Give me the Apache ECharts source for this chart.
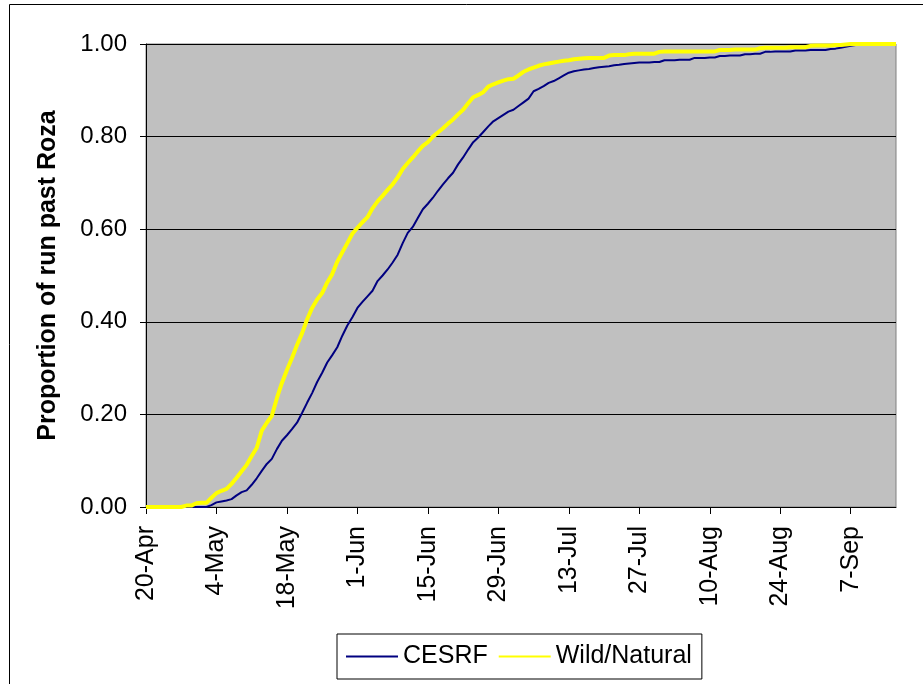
<!DOCTYPE html>
<html>
<head>
<meta charset="utf-8">
<script src="https://cdn.jsdelivr.net/npm/echarts@6/dist/echarts.min.js"></script>
<style>
  html, body { margin: 0; padding: 0; background: #fff; }
  #chart { width: 923px; height: 684px; }
</style>
</head>
<body>
<div id="chart"></div>
<script>
// run timing, 20-Apr .. 16-Sep (one point per day)
const START_DAY = [4, 20]      // month (1-based), day
const DAY_COUNT = 150
const MONTHS = ['Jan', 'Feb', 'Mar', 'Apr', 'May', 'Jun', 'Jul', 'Aug', 'Sep', 'Oct', 'Nov', 'Dec']
const SERIES_NAMES = ['CESRF', 'Wild/Natural']
const Y_TICKS = [0, 0.2, 0.4, 0.6, 0.8, 1.0]

const cesrf = [
  0, 0, 0, 0, 0, 0, 0, 0, 0, 0,
  0, 0, 0, 0.004, 0.010, 0.012, 0.014, 0.017, 0.025, 0.032,
  0.036, 0.048, 0.062, 0.078, 0.093, 0.104, 0.125, 0.143, 0.155, 0.168,
  0.182, 0.203, 0.225, 0.246, 0.270, 0.290, 0.312, 0.328, 0.345, 0.370,
  0.392, 0.410, 0.430, 0.443, 0.455, 0.467, 0.488, 0.500, 0.513, 0.528,
  0.545, 0.570, 0.592, 0.605, 0.624, 0.643, 0.655, 0.668, 0.683, 0.697,
  0.710, 0.722, 0.740, 0.755, 0.772, 0.788, 0.798, 0.810, 0.822, 0.833,
  0.840, 0.847, 0.854, 0.858, 0.866, 0.874, 0.882, 0.898, 0.903, 0.909,
  0.916, 0.920, 0.926, 0.932, 0.938, 0.941, 0.943, 0.945, 0.946, 0.948,
  0.950, 0.951, 0.952, 0.954, 0.955, 0.957, 0.958, 0.959, 0.960, 0.960,
  0.960, 0.961, 0.961, 0.965, 0.965, 0.965, 0.966, 0.966, 0.966, 0.970,
  0.970, 0.970, 0.971, 0.971, 0.974, 0.974, 0.975, 0.975, 0.975, 0.978,
  0.978, 0.979, 0.979, 0.983, 0.983, 0.984, 0.984, 0.984, 0.984, 0.986,
  0.986, 0.986, 0.987, 0.987, 0.987, 0.987, 0.989, 0.990, 0.992, 0.994,
  0.996, 0.998, 1, 1, 1, 1, 1, 1, 1, 1,
]

const wild = [
  0, 0, 0, 0, 0, 0, 0, 0, 0.003, 0.003,
  0.008, 0.009, 0.009, 0.020, 0.030, 0.035, 0.039, 0.050, 0.063, 0.077,
  0.091, 0.110, 0.128, 0.165, 0.182, 0.197, 0.235, 0.268, 0.296, 0.322,
  0.350, 0.375, 0.405, 0.430, 0.448, 0.462, 0.485, 0.503, 0.530, 0.550,
  0.570, 0.590, 0.603, 0.615, 0.626, 0.645, 0.660, 0.672, 0.685, 0.697,
  0.712, 0.730, 0.743, 0.755, 0.768, 0.780, 0.788, 0.800, 0.809, 0.818,
  0.828, 0.837, 0.848, 0.858, 0.872, 0.885, 0.890, 0.896, 0.908, 0.913,
  0.917, 0.921, 0.924, 0.925, 0.932, 0.940, 0.945, 0.949, 0.953, 0.956,
  0.958, 0.960, 0.962, 0.964, 0.965, 0.967, 0.968, 0.969, 0.970, 0.970,
  0.970, 0.970, 0.975, 0.976, 0.976, 0.976, 0.978, 0.979, 0.979, 0.979,
  0.979, 0.979, 0.983, 0.984, 0.984, 0.984, 0.984, 0.984, 0.984, 0.984,
  0.984, 0.984, 0.984, 0.984, 0.987, 0.987, 0.987, 0.988, 0.988, 0.988,
  0.988, 0.988, 0.991, 0.992, 0.992, 0.992, 0.992, 0.992, 0.993, 0.993,
  0.993, 0.993, 0.996, 0.997, 0.997, 0.997, 0.997, 0.998, 0.998, 0.999,
  1, 1, 1, 1, 1, 1, 1, 1, 1, 1,
]

// day labels like "20-Apr"
const days = []
for (let i = 0; i < DAY_COUNT; i++) {
  const d = new Date(2007, START_DAY[0] - 1, START_DAY[1] + i)
  days.push(d.getDate() + '-' + MONTHS[d.getMonth()])
}

const FONT = '"Liberation Sans", Arial, sans-serif'

const chart = echarts.init(document.getElementById('chart'))
chart.setOption({
  animation: false,
  backgroundColor: '#fff',
  textStyle: { fontFamily: FONT },
  graphic: [{
    type: 'rect', silent: true,
    shape: { x: 9.5, y: 4.5, width: 930, height: 700 },
    style: { fill: 'none', stroke: '#000', lineWidth: 1 },
  }],
  grid: {
    left: 146, right: 27, top: 44, bottom: 177,
    show: true, backgroundColor: '#c0c0c0', borderColor: '#808080', borderWidth: 1,
  },
  legend: {
    left: 337, top: 634,
    padding: [10, 10, 10, 8],
    itemWidth: 52, itemHeight: 14, itemGap: 10,
    itemStyle: { opacity: 0 },
    borderColor: '#000', borderWidth: 1, backgroundColor: '#fff',
    textStyle: { fontFamily: FONT, fontSize: 25, color: '#000' },
    data: SERIES_NAMES,
  },
  xAxis: {
    type: 'category', data: days, boundaryGap: false,
    axisLine: { lineStyle: { color: '#000', width: 1 } },
    axisTick: { show: true, interval: 13, length: 7, lineStyle: { color: '#000' } },
    axisLabel: {
      interval: 13, rotate: 90, margin: 19,
      fontFamily: FONT, fontSize: 25, color: '#000',
    },
    splitLine: { show: false },
  },
  yAxis: {
    type: 'value', min: Y_TICKS[0], max: Y_TICKS[Y_TICKS.length - 1], interval: 0.2,
    name: 'Proportion of run past Roza', nameLocation: 'middle', nameGap: 85,
    nameTextStyle: { fontFamily: FONT, fontSize: 25, fontWeight: 'bold', color: '#000' },
    axisLine: { show: true, lineStyle: { color: '#000', width: 1 } },
    axisTick: { show: true, length: 6, lineStyle: { color: '#000' } },
    axisLabel: {
      margin: 19, fontFamily: FONT, fontSize: 24, color: '#000',
      formatter: v => v.toFixed(2),
    },
    splitLine: { show: true, lineStyle: { color: '#000', width: 1 } },
  },
  series: [
    {
      name: SERIES_NAMES[0], type: 'line', data: cesrf,
      symbol: 'none', color: '#000080',
      lineStyle: { color: '#000080', width: 2 },
    },
    {
      name: SERIES_NAMES[1], type: 'line', data: wild,
      symbol: 'none', color: '#ffff00',
      lineStyle: { color: '#ffff00', width: 4 },
    },
  ],
})
</script>
</body>
</html>
